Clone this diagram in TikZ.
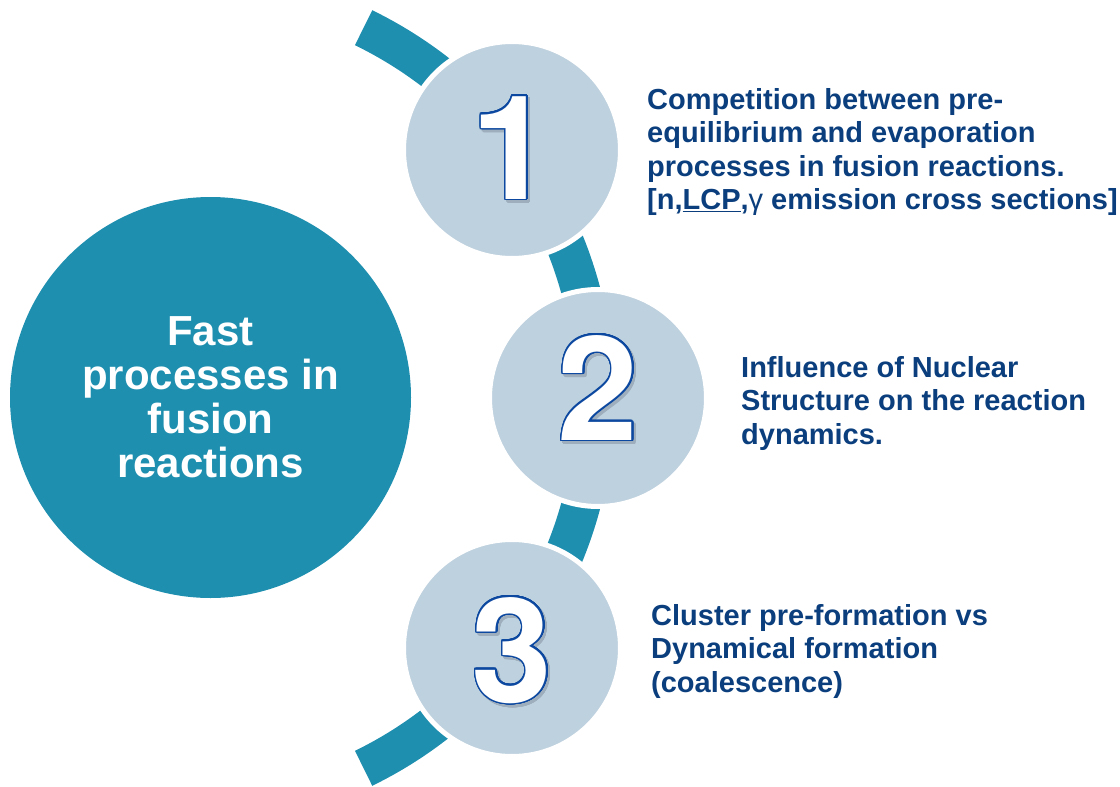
\documentclass[tikz,border=0pt]{standalone}
\usepackage{fontspec}
\setmainfont{Liberation Sans}
\newfontfamily\digitfont{TeX Gyre Heros}
\usepackage{contour}
\contourlength{1.6pt}
\contournumber{32}

\definecolor{ringteal}{RGB}{31,143,176}
\definecolor{stagefill}{RGB}{190,209,222}
\definecolor{textblue}{RGB}{10,62,125}
\definecolor{digitblue}{RGB}{12,72,160}
\definecolor{digitshadow}{RGB}{158,174,188}

\tikzset{
  ring/.style={draw=ringteal, line width=39pt, line cap=butt},
  hubcircle/.style={circle, fill=ringteal, minimum size=401pt, inner sep=0pt},
  stagecircle/.style={circle, fill=stagefill, draw=white, line width=5pt,
    minimum size=217pt, inner sep=0pt},
  digit/.style={inner sep=0pt, font=\digitfont\fontsize{145}{145}\selectfont\bfseries, text=white},
  digitshade/.style={inner sep=0pt, font=\digitfont\fontsize{145}{145}\selectfont\bfseries, text=digitshadow},
  desc/.style={inner sep=0pt, align=left, anchor=base west, text=textblue,
    font=\fontsize{29}{33.5}\selectfont\bfseries},
  hubtext/.style={inner sep=0pt, align=center, anchor=base, text=white,
    font=\fontsize{42}{43.7}\selectfont\bfseries}
}

\begin{document}
\begin{tikzpicture}[x=1pt, y=-1pt]
  \useasboundingbox (0,0) rectangle (1120,787);

  % centre of the dashed ring
  \coordinate (hub) at (183,398);

  % the ring behind the stages
  \draw[ring] ([shift={(-64:412)}]hub) arc[start angle=-64, end angle=64, radius=412];

  % main circle (text node is anchored at the baseline of its last line)
  \node[hubcircle] (main) at (210.5,397.5) {};
  \node[hubtext] (maintext) at (210.5,477)
    {Fast\\processes in\\fusion\\reactions};

  % stage circles
  \node[stagecircle] (s1) at (512,150) {};
  \node[stagecircle] (s2) at (598,398) {};
  \node[stagecircle] (s3) at (512,648) {};

  % outlined numbers with a soft shadow
  \node[digitshade] (d1s) at ([shift={(2.5,1)}]s1) {\contour{digitshadow}{1}};
  \node[digit] (d1) at ([shift={(0,-1.5)}]s1) {\contour{digitblue}{1}};
  \node[digitshade] (d2s) at ([shift={(2.5,-7)}]s2) {\contour{digitshadow}{2}};
  \node[digit] (d2) at ([shift={(0,-9.5)}]s2) {\contour{digitblue}{2}};
  \node[digitshade] (d3s) at ([shift={(2.5,5.5)}]s3) {\contour{digitshadow}{3}};
  \node[digit] (d3) at ([shift={(0,3)}]s3) {\contour{digitblue}{3}};

  % descriptions (anchored at the baseline of the last line)
  \node[desc] (t1) at (647,209.5)
    {Competition between pre-\\equilibrium and evaporation\\processes in fusion reactions.\\{}[n,\underline{LCP},{\mdseries γ} emission cross sections]};
  \node[desc] (t2) at (741,444)
    {Influence of Nuclear\\Structure on the reaction\\dynamics.};
  \node[desc] (t3) at (651,692)
    {Cluster pre-formation vs\\Dynamical formation\\(coalescence)};
\end{tikzpicture}
\end{document}
